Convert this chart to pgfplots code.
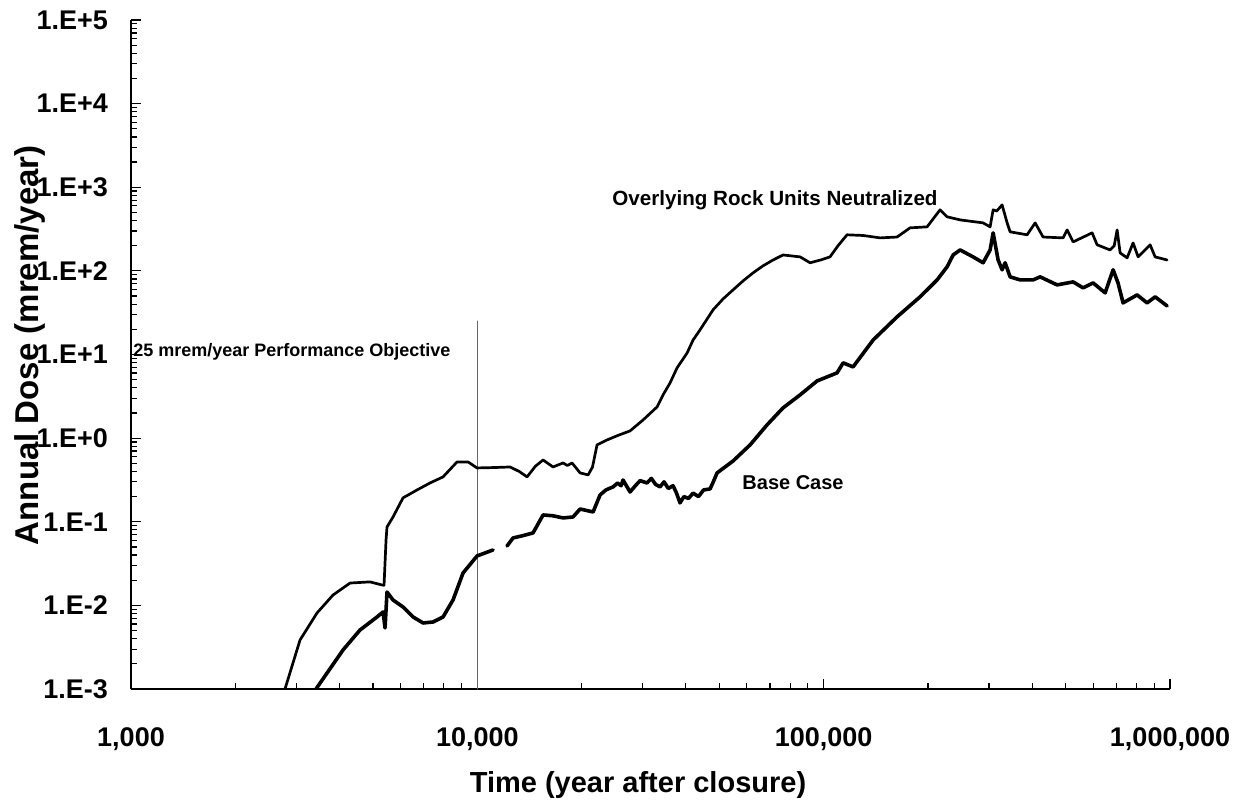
\documentclass[border=0pt]{standalone}
\usepackage{fontspec}
\setmainfont{Liberation Sans}
\usepackage{pgfplots}
\pgfplotsset{compat=1.18}
\begin{document}
\begin{tikzpicture}
\path[use as bounding box] (-65.5pt,-59.5pt) rectangle (558.5pt,344.5pt);
\begin{axis}[
  at={(0,0)}, anchor=south west,
  scale only axis, width=519.5pt, height=334.5pt,
  xmode=log, ymode=log,
  xmin=1000, xmax=1000000, ymin=0.001, ymax=100000,
  axis lines*=left,
  axis line style={line width=0.8pt},
  xtick={1000,10000,100000,1000000},
  xticklabels={{1,000},{10,000},{100,000},{1,000,000}},
  ytick={1e-3,1e-2,1e-1,1,10,100,1000,10000,100000},
  yticklabels={1.E-3,1.E-2,1.E-1,1.E+0,1.E+1,1.E+2,1.E+3,1.E+4,1.E+5},
  tick align=inside,
  major tick length=5pt, minor tick length=3pt,
  tick style={black, line width=0.6pt},
  tick label style={font=\fontsize{13.5}{16}\selectfont\bfseries},
  xticklabel style={yshift=-16pt},
  yticklabel style={xshift=-8pt},
  xlabel={Time (year after closure)},
  ylabel={Annual Dose (mrem/year)},
  xlabel style={font=\fontsize{14.5}{17}\selectfont\bfseries, at={(axis description cs:0.488,0)}, anchor=center, yshift=-48pt},
  ylabel style={font=\fontsize{16.5}{19}\selectfont\bfseries, at={(axis description cs:-0.0972,0.514)}, anchor=center},
  every axis plot/.append style={line join=round, line cap=round},
]
% 25 mrem/year objective line
\addplot[gray!80!black, line width=0.5pt] coordinates {(10000,0.001) (10000,25)};

% Overlying Rock Units Neutralized
\addplot[black, line width=1.35pt] coordinates {
(2740,0.0008) (2784,0.001) (3076,0.00385) (3444,0.00811) (3831,0.0133) (4290,0.0185)
(4898,0.0191) (5306,0.01754) (5378,0.0174) (5450,0.0605) (5485,0.0867) (5708,0.114)
(6101,0.193) (6697,0.240) (7302,0.291) (7962,0.344) (8737,0.519) (9400,0.519)
(9980,0.440) (11200,0.445) (12430,0.452) (13200,0.40) (13920,0.344) (14700,0.46) (15480,0.548) (16540,0.452) (17680,0.505)
(18200,0.47) (18770,0.505) (19800,0.384) (20880,0.363) (21500,0.45) (22160,0.830) (23690,0.951) (25500,1.08) (27600,1.22)
(30100,1.65) (33030,2.36) (34380,3.29) (36010,4.57) (37730,6.92) (40320,10.4) (41970,14.9) (43950,19.7) (47930,34.2)
(51230,46.2) (54750,59.3) (58520,75.9) (62520,94.6) (66830,115) (71430,135) (76340,155) (85490,147) (91360,125)
(98000,135) (104300,147) (110000,200) (116800,270) (130000,265) (145500,248) (162900,254) (177600,327) (198900,336)
(216800,537) (227200,443) (247700,407) (288600,375) (302400,336) (308500,537)
(316000,520) (327500,615) (338600,375) (345400,293) (386800,270) (407900,375) (430000,254)
(491200,248) (504600,309) (525100,222) (595800,285) (615900,205) (671500,178)
(690000,200) (703600,309) (717800,164) (751900,143) (782400,216) (808900,147) (876000,205)
(905700,147) (980800,135)
};

% Base Case (two pieces, gap near 11,500)
\addplot[black, line width=1.8pt] coordinates {
(3380,0.0008) (3421,0.001) (3681,0.00155) (4095,0.00293) (4584,0.00508) (5133,0.00727)
(5343,0.00834) (5414,0.00537) (5485,0.01445) (5708,0.01161) (6101,0.00957) (6521,0.00727)
(6970,0.00616) (7450,0.00633) (7962,0.00727) (8508,0.01161) (9094,0.0244) (9980,0.0390)
(11100,0.0460)
};
\addplot[black, line width=1.8pt] coordinates {
(12180,0.0513) (12680,0.0640) (13500,0.068) (14480,0.0735) (15480,0.1206) (16500,0.118) (17680,0.1111) (18890,0.114)
(19800,0.142) (21590,0.131) (22610,0.209) (23500,0.24) (24650,0.261) (25400,0.29) (26000,0.27) (26340,0.316) (27600,0.227)
(28600,0.27) (29500,0.31) (30900,0.291) (31800,0.33) (32700,0.28) (33700,0.261) (34600,0.30) (35600,0.25) (36740,0.27)
(37600,0.22) (38480,0.168) (39500,0.20) (40700,0.19) (41970,0.22) (43500,0.20) (45000,0.24) (46990,0.247) (48000,0.30)
(49230,0.384) (54750,0.533) (61310,0.830) (68630,1.44) (76340,2.30) (85490,3.29)
(95720,4.83) (109300,6.03) (113800,7.94) (121600,7.11) (138900,14.9) (162900,28.2)
(189800,48.9) (212600,78.0) (227200,112) (236500,155) (247700,178) (270000,147)
(288600,125) (302400,178) (308500,285) (318900,135) (327500,103) (334100,125)
(345400,84.8) (369100,78.0) (402400,78.0) (421600,84.8) (472100,68.0) (525100,73.8)
(561100,62.6) (599700,71.8) (649600,54.6) (684900,103) (707800,71.8) (732000,41.4)
(803500,51.6) (858800,41.4) (905700,48.9) (980800,38.1)
};

\node[anchor=west, inner sep=0pt, font=\fontsize{10.3}{12}\selectfont\bfseries] at (axis cs:24490,706) {Overlying Rock Units Neutralized};
\node[anchor=west, inner sep=0pt, font=\fontsize{10}{12}\selectfont\bfseries] at (axis cs:58120,0.291) {Base Case};
\node[anchor=west, inner sep=0pt, font=\fontsize{9}{11}\selectfont\bfseries] at (axis cs:1013,10.7) {25 mrem/year Performance Objective};
\end{axis}
\end{tikzpicture}
\end{document}
